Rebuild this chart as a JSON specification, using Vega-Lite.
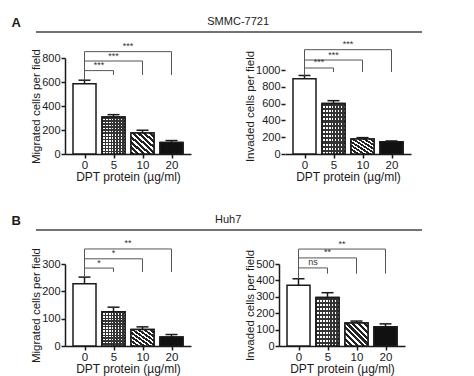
{
  "$schema": "https://vega.github.io/schema/vega-lite/v6.json",
  "background": "white",
  "padding": {"left": 11, "top": 12, "right": 5, "bottom": 3},
  "datasets": {
    "a1": [
      {"i": 0, "dose": "0", "mean": 585, "hi": 615},
      {"i": 1, "dose": "5", "mean": 308, "hi": 328},
      {"i": 2, "dose": "10", "mean": 175, "hi": 198},
      {"i": 3, "dose": "20", "mean": 95, "hi": 112}
    ],
    "a1s": [
      {"from": 0, "to": 1, "start": 615, "level": 695, "drop": 658, "label": "***"},
      {"from": 0, "to": 2, "start": 615, "level": 775, "drop": 658, "label": "***"},
      {"from": 0, "to": 3, "start": 615, "level": 853, "drop": 658, "label": "***"}
    ],
    "a2": [
      {"i": 0, "dose": "0", "mean": 895, "hi": 935},
      {"i": 1, "dose": "5", "mean": 600, "hi": 635},
      {"i": 2, "dose": "10", "mean": 180, "hi": 195},
      {"i": 3, "dose": "20", "mean": 145, "hi": 155}
    ],
    "a2s": [
      {"from": 0, "to": 1, "start": 935, "level": 1024, "drop": 976, "label": "***"},
      {"from": 0, "to": 2, "start": 935, "level": 1119, "drop": 976, "label": "***"},
      {"from": 0, "to": 3, "start": 935, "level": 1242, "drop": 976, "label": "***"}
    ],
    "b1": [
      {"i": 0, "dose": "0", "mean": 228, "hi": 252},
      {"i": 1, "dose": "5", "mean": 125, "hi": 142},
      {"i": 2, "dose": "10", "mean": 60, "hi": 70},
      {"i": 3, "dose": "20", "mean": 33, "hi": 42}
    ],
    "b1s": [
      {"from": 0, "to": 1, "start": 252, "level": 285, "drop": 271, "label": "*"},
      {"from": 0, "to": 2, "start": 252, "level": 319, "drop": 271, "label": "*"},
      {"from": 0, "to": 3, "start": 252, "level": 355, "drop": 271, "label": "**"}
    ],
    "b2": [
      {"i": 0, "dose": "0", "mean": 370, "hi": 410},
      {"i": 1, "dose": "5", "mean": 295, "hi": 325},
      {"i": 2, "dose": "10", "mean": 140, "hi": 152},
      {"i": 3, "dose": "20", "mean": 118, "hi": 135}
    ],
    "b2s": [
      {"from": 0, "to": 1, "start": 410, "level": 476, "drop": 441, "label": "ns"},
      {"from": 0, "to": 2, "start": 410, "level": 537, "drop": 441, "label": "**"},
      {"from": 0, "to": 3, "start": 410, "level": 591, "drop": 441, "label": "**"}
    ]
  },
  "spacing": 27,
  "vconcat": [
    {
      "spacing": 26,
      "bounds": "flush",
      "vconcat": [
        {
          "width": 357, "height": 20,
          "data": {"values": [{"panel": "A", "line": "SMMC-7721"}]},
          "layer": [
            {"mark": {"type": "text", "fontSize": 13, "fontWeight": "bold", "align": "right", "baseline": "middle", "dx": -15, "dy": 1, "color": "#1a1a1a"},
             "encoding": {"x": {"datum": -0.0812, "type": "quantitative", "scale": {"domain": [0, 1], "nice": false, "zero": false}, "axis": null}, "text": {"field": "panel"}}},
            {"mark": {"type": "text", "fontSize": 11, "baseline": "middle", "align": "center", "color": "#1a1a1a"},
             "encoding": {"x": {"datum": 0.485, "type": "quantitative", "scale": {"domain": [0, 1], "nice": false, "zero": false}, "axis": null}, "text": {"field": "line"}}},
            {"mark": {"type": "rule", "strokeWidth": 1.5, "color": "#444"},
             "encoding": {"x": {"datum": -0.0812, "type": "quantitative", "scale": {"domain": [0, 1], "nice": false, "zero": false}, "axis": null}, "x2": {"datum": 1}, "y": {"value": "height"}}}
          ]
        },
        {
          "spacing": 53,
          "hconcat": [
            {
              "width": 126, "height": 96,
              "encoding": {
                "x": {"type": "quantitative", "scale": {"domain": [-0.5, 3.5], "nice": false, "zero": false}, "axis": {"values": [0, 1, 2, 3], "labelExpr": "['0','5','10','20'][datum.value]", "title": "DPT protein (µg/ml)"}},
                "y": {"type": "quantitative", "scale": {"domain": [0, 800], "nice": false}, "axis": {"values": [0, 200, 400, 600, 800], "title": "Migrated cells per field"}}
              },
              "layer": [
                {"data": {"name": "a1"}, "mark": {"type": "bar", "orient": "vertical", "width": 23, "fill": "white", "stroke": "#1a1a1a", "strokeWidth": 1.5},
                 "encoding": {"x": {"field": "i"}, "y": {"field": "mean"}}},
                {"data": {"name": "a1"}, "transform": [{"filter": "datum.i==1"}], "mark": {"type": "bar", "orient": "vertical", "width": 23, "fill": {"gradient": "linear", "x1": 0, "y1": 0, "x2": 1, "y2": 0, "stops": [{"offset": 0, "color": "#333"}, {"offset": 0.0625, "color": "#333"}, {"offset": 0.0625, "color": "#fff"}, {"offset": 0.125, "color": "#fff"}, {"offset": 0.125, "color": "#333"}, {"offset": 0.1875, "color": "#333"}, {"offset": 0.1875, "color": "#fff"}, {"offset": 0.25, "color": "#fff"}, {"offset": 0.25, "color": "#333"}, {"offset": 0.3125, "color": "#333"}, {"offset": 0.3125, "color": "#fff"}, {"offset": 0.375, "color": "#fff"}, {"offset": 0.375, "color": "#333"}, {"offset": 0.4375, "color": "#333"}, {"offset": 0.4375, "color": "#fff"}, {"offset": 0.5, "color": "#fff"}, {"offset": 0.5, "color": "#333"}, {"offset": 0.5625, "color": "#333"}, {"offset": 0.5625, "color": "#fff"}, {"offset": 0.625, "color": "#fff"}, {"offset": 0.625, "color": "#333"}, {"offset": 0.6875, "color": "#333"}, {"offset": 0.6875, "color": "#fff"}, {"offset": 0.75, "color": "#fff"}, {"offset": 0.75, "color": "#333"}, {"offset": 0.8125, "color": "#333"}, {"offset": 0.8125, "color": "#fff"}, {"offset": 0.875, "color": "#fff"}, {"offset": 0.875, "color": "#333"}, {"offset": 0.9375, "color": "#333"}, {"offset": 0.9375, "color": "#fff"}, {"offset": 1, "color": "#fff"}]}},
                 "encoding": {"x": {"field": "i"}, "y": {"field": "mean"}}},
                {"data": {"name": "a1"}, "transform": [{"filter": "datum.i==1"}], "mark": {"type": "bar", "orient": "vertical", "width": 23, "stroke": "#1a1a1a", "strokeWidth": 1.5, "fill": {"gradient": "linear", "x1": 0, "y1": 0, "x2": 0, "y2": 1, "stops": [{"offset": 0, "color": "#333"}, {"offset": 0.0417, "color": "#333"}, {"offset": 0.0417, "color": "rgba(255,255,255,0)"}, {"offset": 0.0833, "color": "rgba(255,255,255,0)"}, {"offset": 0.0833, "color": "#333"}, {"offset": 0.125, "color": "#333"}, {"offset": 0.125, "color": "rgba(255,255,255,0)"}, {"offset": 0.1667, "color": "rgba(255,255,255,0)"}, {"offset": 0.1667, "color": "#333"}, {"offset": 0.2083, "color": "#333"}, {"offset": 0.2083, "color": "rgba(255,255,255,0)"}, {"offset": 0.25, "color": "rgba(255,255,255,0)"}, {"offset": 0.25, "color": "#333"}, {"offset": 0.2917, "color": "#333"}, {"offset": 0.2917, "color": "rgba(255,255,255,0)"}, {"offset": 0.3333, "color": "rgba(255,255,255,0)"}, {"offset": 0.3333, "color": "#333"}, {"offset": 0.375, "color": "#333"}, {"offset": 0.375, "color": "rgba(255,255,255,0)"}, {"offset": 0.4167, "color": "rgba(255,255,255,0)"}, {"offset": 0.4167, "color": "#333"}, {"offset": 0.4583, "color": "#333"}, {"offset": 0.4583, "color": "rgba(255,255,255,0)"}, {"offset": 0.5, "color": "rgba(255,255,255,0)"}, {"offset": 0.5, "color": "#333"}, {"offset": 0.5417, "color": "#333"}, {"offset": 0.5417, "color": "rgba(255,255,255,0)"}, {"offset": 0.5833, "color": "rgba(255,255,255,0)"}, {"offset": 0.5833, "color": "#333"}, {"offset": 0.625, "color": "#333"}, {"offset": 0.625, "color": "rgba(255,255,255,0)"}, {"offset": 0.6667, "color": "rgba(255,255,255,0)"}, {"offset": 0.6667, "color": "#333"}, {"offset": 0.7083, "color": "#333"}, {"offset": 0.7083, "color": "rgba(255,255,255,0)"}, {"offset": 0.75, "color": "rgba(255,255,255,0)"}, {"offset": 0.75, "color": "#333"}, {"offset": 0.7917, "color": "#333"}, {"offset": 0.7917, "color": "rgba(255,255,255,0)"}, {"offset": 0.8333, "color": "rgba(255,255,255,0)"}, {"offset": 0.8333, "color": "#333"}, {"offset": 0.875, "color": "#333"}, {"offset": 0.875, "color": "rgba(255,255,255,0)"}, {"offset": 0.9167, "color": "rgba(255,255,255,0)"}, {"offset": 0.9167, "color": "#333"}, {"offset": 0.9583, "color": "#333"}, {"offset": 0.9583, "color": "rgba(255,255,255,0)"}, {"offset": 1, "color": "rgba(255,255,255,0)"}]}},
                 "encoding": {"x": {"field": "i"}, "y": {"field": "mean"}}},
                {"data": {"name": "a1"}, "transform": [{"filter": "datum.i==2"}], "mark": {"type": "bar", "orient": "vertical", "width": 23, "stroke": "#1a1a1a", "strokeWidth": 1.5, "fill": {"gradient": "linear", "x1": 0, "y1": 1, "x2": 1, "y2": 0, "stops": [{"offset": 0, "color": "#222"}, {"offset": 0.07, "color": "#222"}, {"offset": 0.07, "color": "#fff"}, {"offset": 0.125, "color": "#fff"}, {"offset": 0.125, "color": "#222"}, {"offset": 0.195, "color": "#222"}, {"offset": 0.195, "color": "#fff"}, {"offset": 0.25, "color": "#fff"}, {"offset": 0.25, "color": "#222"}, {"offset": 0.32, "color": "#222"}, {"offset": 0.32, "color": "#fff"}, {"offset": 0.375, "color": "#fff"}, {"offset": 0.375, "color": "#222"}, {"offset": 0.445, "color": "#222"}, {"offset": 0.445, "color": "#fff"}, {"offset": 0.5, "color": "#fff"}, {"offset": 0.5, "color": "#222"}, {"offset": 0.57, "color": "#222"}, {"offset": 0.57, "color": "#fff"}, {"offset": 0.625, "color": "#fff"}, {"offset": 0.625, "color": "#222"}, {"offset": 0.695, "color": "#222"}, {"offset": 0.695, "color": "#fff"}, {"offset": 0.75, "color": "#fff"}, {"offset": 0.75, "color": "#222"}, {"offset": 0.82, "color": "#222"}, {"offset": 0.82, "color": "#fff"}, {"offset": 0.875, "color": "#fff"}, {"offset": 0.875, "color": "#222"}, {"offset": 0.945, "color": "#222"}, {"offset": 0.945, "color": "#fff"}, {"offset": 1, "color": "#fff"}]}},
                 "encoding": {"x": {"field": "i"}, "y": {"field": "mean"}}},
                {"data": {"name": "a1"}, "transform": [{"filter": "datum.i==3"}], "mark": {"type": "bar", "orient": "vertical", "width": 23, "fill": "#111", "stroke": "#1a1a1a", "strokeWidth": 1.5},
                 "encoding": {"x": {"field": "i"}, "y": {"field": "mean"}}},
                {"data": {"name": "a1"}, "mark": {"type": "rule", "strokeWidth": 1.5, "color": "#1a1a1a"},
                 "encoding": {"x": {"field": "i"}, "y": {"field": "mean"}, "y2": {"field": "hi"}}},
                {"data": {"name": "a1"}, "mark": {"type": "tick", "orient": "horizontal", "size": 12, "thickness": 1.5, "color": "#1a1a1a", "opacity": 1},
                 "encoding": {"x": {"field": "i"}, "y": {"field": "hi"}}},
                {"data": {"name": "a1s"}, "mark": {"type": "rule", "strokeWidth": 1, "color": "#555"},
                 "encoding": {"x": {"field": "from"}, "x2": {"field": "to"}, "y": {"field": "level"}}},
                {"data": {"name": "a1s"}, "mark": {"type": "rule", "strokeWidth": 1, "color": "#555"},
                 "encoding": {"x": {"field": "to"}, "y": {"field": "drop"}, "y2": {"field": "level"}}},
                {"data": {"name": "a1s"}, "mark": {"type": "rule", "strokeWidth": 1, "color": "#555"},
                 "encoding": {"x": {"field": "from"}, "y": {"field": "start"}, "y2": {"field": "level"}}},
                {"data": {"name": "a1s"}, "transform": [{"calculate": "(datum.from+datum.to)/2", "as": "mid"}], "mark": {"type": "text", "fontSize": 9, "baseline": "bottom", "dy": -0.5, "color": "#333"},
                 "encoding": {"x": {"field": "mid"}, "y": {"field": "level"}, "text": {"field": "label"}}}
              ]
            },
            {
              "width": 126, "height": 96,
              "encoding": {
                "x": {"type": "quantitative", "scale": {"domain": [-0.5, 3.5], "nice": false, "zero": false}, "axis": {"values": [0, 1, 2, 3], "labelExpr": "['0','5','10','20'][datum.value]", "title": "DPT protein (µg/ml)"}},
                "y": {"type": "quantitative", "scale": {"domain": [0, 1143], "nice": false}, "axis": {"values": [0, 200, 400, 600, 800, 1000], "format": "d", "domain": false, "title": "Invaded cells per field"}}
              },
              "layer": [
                {"data": {"name": "a2"}, "mark": {"type": "bar", "orient": "vertical", "width": 23, "fill": "white", "stroke": "#1a1a1a", "strokeWidth": 1.5},
                 "encoding": {"x": {"field": "i"}, "y": {"field": "mean"}}},
                {"data": {"name": "a2"}, "transform": [{"filter": "datum.i==1"}], "mark": {"type": "bar", "orient": "vertical", "width": 23, "fill": {"gradient": "linear", "x1": 0, "y1": 0, "x2": 1, "y2": 0, "stops": [{"offset": 0, "color": "#333"}, {"offset": 0.0625, "color": "#333"}, {"offset": 0.0625, "color": "#fff"}, {"offset": 0.125, "color": "#fff"}, {"offset": 0.125, "color": "#333"}, {"offset": 0.1875, "color": "#333"}, {"offset": 0.1875, "color": "#fff"}, {"offset": 0.25, "color": "#fff"}, {"offset": 0.25, "color": "#333"}, {"offset": 0.3125, "color": "#333"}, {"offset": 0.3125, "color": "#fff"}, {"offset": 0.375, "color": "#fff"}, {"offset": 0.375, "color": "#333"}, {"offset": 0.4375, "color": "#333"}, {"offset": 0.4375, "color": "#fff"}, {"offset": 0.5, "color": "#fff"}, {"offset": 0.5, "color": "#333"}, {"offset": 0.5625, "color": "#333"}, {"offset": 0.5625, "color": "#fff"}, {"offset": 0.625, "color": "#fff"}, {"offset": 0.625, "color": "#333"}, {"offset": 0.6875, "color": "#333"}, {"offset": 0.6875, "color": "#fff"}, {"offset": 0.75, "color": "#fff"}, {"offset": 0.75, "color": "#333"}, {"offset": 0.8125, "color": "#333"}, {"offset": 0.8125, "color": "#fff"}, {"offset": 0.875, "color": "#fff"}, {"offset": 0.875, "color": "#333"}, {"offset": 0.9375, "color": "#333"}, {"offset": 0.9375, "color": "#fff"}, {"offset": 1, "color": "#fff"}]}},
                 "encoding": {"x": {"field": "i"}, "y": {"field": "mean"}}},
                {"data": {"name": "a2"}, "transform": [{"filter": "datum.i==1"}], "mark": {"type": "bar", "orient": "vertical", "width": 23, "stroke": "#1a1a1a", "strokeWidth": 1.5, "fill": {"gradient": "linear", "x1": 0, "y1": 0, "x2": 0, "y2": 1, "stops": [{"offset": 0, "color": "#333"}, {"offset": 0.0417, "color": "#333"}, {"offset": 0.0417, "color": "rgba(255,255,255,0)"}, {"offset": 0.0833, "color": "rgba(255,255,255,0)"}, {"offset": 0.0833, "color": "#333"}, {"offset": 0.125, "color": "#333"}, {"offset": 0.125, "color": "rgba(255,255,255,0)"}, {"offset": 0.1667, "color": "rgba(255,255,255,0)"}, {"offset": 0.1667, "color": "#333"}, {"offset": 0.2083, "color": "#333"}, {"offset": 0.2083, "color": "rgba(255,255,255,0)"}, {"offset": 0.25, "color": "rgba(255,255,255,0)"}, {"offset": 0.25, "color": "#333"}, {"offset": 0.2917, "color": "#333"}, {"offset": 0.2917, "color": "rgba(255,255,255,0)"}, {"offset": 0.3333, "color": "rgba(255,255,255,0)"}, {"offset": 0.3333, "color": "#333"}, {"offset": 0.375, "color": "#333"}, {"offset": 0.375, "color": "rgba(255,255,255,0)"}, {"offset": 0.4167, "color": "rgba(255,255,255,0)"}, {"offset": 0.4167, "color": "#333"}, {"offset": 0.4583, "color": "#333"}, {"offset": 0.4583, "color": "rgba(255,255,255,0)"}, {"offset": 0.5, "color": "rgba(255,255,255,0)"}, {"offset": 0.5, "color": "#333"}, {"offset": 0.5417, "color": "#333"}, {"offset": 0.5417, "color": "rgba(255,255,255,0)"}, {"offset": 0.5833, "color": "rgba(255,255,255,0)"}, {"offset": 0.5833, "color": "#333"}, {"offset": 0.625, "color": "#333"}, {"offset": 0.625, "color": "rgba(255,255,255,0)"}, {"offset": 0.6667, "color": "rgba(255,255,255,0)"}, {"offset": 0.6667, "color": "#333"}, {"offset": 0.7083, "color": "#333"}, {"offset": 0.7083, "color": "rgba(255,255,255,0)"}, {"offset": 0.75, "color": "rgba(255,255,255,0)"}, {"offset": 0.75, "color": "#333"}, {"offset": 0.7917, "color": "#333"}, {"offset": 0.7917, "color": "rgba(255,255,255,0)"}, {"offset": 0.8333, "color": "rgba(255,255,255,0)"}, {"offset": 0.8333, "color": "#333"}, {"offset": 0.875, "color": "#333"}, {"offset": 0.875, "color": "rgba(255,255,255,0)"}, {"offset": 0.9167, "color": "rgba(255,255,255,0)"}, {"offset": 0.9167, "color": "#333"}, {"offset": 0.9583, "color": "#333"}, {"offset": 0.9583, "color": "rgba(255,255,255,0)"}, {"offset": 1, "color": "rgba(255,255,255,0)"}]}},
                 "encoding": {"x": {"field": "i"}, "y": {"field": "mean"}}},
                {"data": {"name": "a2"}, "transform": [{"filter": "datum.i==2"}], "mark": {"type": "bar", "orient": "vertical", "width": 23, "stroke": "#1a1a1a", "strokeWidth": 1.5, "fill": {"gradient": "linear", "x1": 0, "y1": 1, "x2": 1, "y2": 0, "stops": [{"offset": 0, "color": "#222"}, {"offset": 0.07, "color": "#222"}, {"offset": 0.07, "color": "#fff"}, {"offset": 0.125, "color": "#fff"}, {"offset": 0.125, "color": "#222"}, {"offset": 0.195, "color": "#222"}, {"offset": 0.195, "color": "#fff"}, {"offset": 0.25, "color": "#fff"}, {"offset": 0.25, "color": "#222"}, {"offset": 0.32, "color": "#222"}, {"offset": 0.32, "color": "#fff"}, {"offset": 0.375, "color": "#fff"}, {"offset": 0.375, "color": "#222"}, {"offset": 0.445, "color": "#222"}, {"offset": 0.445, "color": "#fff"}, {"offset": 0.5, "color": "#fff"}, {"offset": 0.5, "color": "#222"}, {"offset": 0.57, "color": "#222"}, {"offset": 0.57, "color": "#fff"}, {"offset": 0.625, "color": "#fff"}, {"offset": 0.625, "color": "#222"}, {"offset": 0.695, "color": "#222"}, {"offset": 0.695, "color": "#fff"}, {"offset": 0.75, "color": "#fff"}, {"offset": 0.75, "color": "#222"}, {"offset": 0.82, "color": "#222"}, {"offset": 0.82, "color": "#fff"}, {"offset": 0.875, "color": "#fff"}, {"offset": 0.875, "color": "#222"}, {"offset": 0.945, "color": "#222"}, {"offset": 0.945, "color": "#fff"}, {"offset": 1, "color": "#fff"}]}},
                 "encoding": {"x": {"field": "i"}, "y": {"field": "mean"}}},
                {"data": {"name": "a2"}, "transform": [{"filter": "datum.i==3"}], "mark": {"type": "bar", "orient": "vertical", "width": 23, "fill": "#111", "stroke": "#1a1a1a", "strokeWidth": 1.5},
                 "encoding": {"x": {"field": "i"}, "y": {"field": "mean"}}},
                {"data": {"name": "a2"}, "mark": {"type": "rule", "strokeWidth": 1.5, "color": "#1a1a1a"},
                 "encoding": {"x": {"field": "i"}, "y": {"field": "mean"}, "y2": {"field": "hi"}}},
                {"data": {"name": "a2"}, "mark": {"type": "tick", "orient": "horizontal", "size": 12, "thickness": 1.5, "color": "#1a1a1a", "opacity": 1},
                 "encoding": {"x": {"field": "i"}, "y": {"field": "hi"}}},
                {"mark": {"type": "rule", "strokeWidth": 1.5, "color": "#1a1a1a"},
                 "encoding": {"x": {"datum": -0.5}, "y": {"datum": 0}, "y2": {"datum": 1000}}},
                {"data": {"name": "a2s"}, "mark": {"type": "rule", "strokeWidth": 1, "color": "#555"},
                 "encoding": {"x": {"field": "from"}, "x2": {"field": "to"}, "y": {"field": "level"}}},
                {"data": {"name": "a2s"}, "mark": {"type": "rule", "strokeWidth": 1, "color": "#555"},
                 "encoding": {"x": {"field": "to"}, "y": {"field": "drop"}, "y2": {"field": "level"}}},
                {"data": {"name": "a2s"}, "mark": {"type": "rule", "strokeWidth": 1, "color": "#555"},
                 "encoding": {"x": {"field": "from"}, "y": {"field": "start"}, "y2": {"field": "level"}}},
                {"data": {"name": "a2s"}, "transform": [{"calculate": "(datum.from+datum.to)/2", "as": "mid"}], "mark": {"type": "text", "fontSize": 9, "baseline": "bottom", "dy": -0.5, "color": "#333"},
                 "encoding": {"x": {"field": "mid"}, "y": {"field": "level"}, "text": {"field": "label"}}}
              ]
            }
          ]
        }
      ]
    },
    {
      "spacing": 34,
      "bounds": "flush",
      "vconcat": [
        {
          "width": 357, "height": 20,
          "data": {"values": [{"panel": "B", "line": "Huh7"}]},
          "layer": [
            {"mark": {"type": "text", "fontSize": 13, "fontWeight": "bold", "align": "right", "baseline": "middle", "dx": -15, "dy": 1, "color": "#1a1a1a"},
             "encoding": {"x": {"datum": -0.0812, "type": "quantitative", "scale": {"domain": [0, 1], "nice": false, "zero": false}, "axis": null}, "text": {"field": "panel"}}},
            {"mark": {"type": "text", "fontSize": 11, "baseline": "middle", "align": "center", "color": "#1a1a1a"},
             "encoding": {"x": {"datum": 0.457, "type": "quantitative", "scale": {"domain": [0, 1], "nice": false, "zero": false}, "axis": null}, "text": {"field": "line"}}},
            {"mark": {"type": "rule", "strokeWidth": 1.5, "color": "#444"},
             "encoding": {"x": {"datum": -0.0812, "type": "quantitative", "scale": {"domain": [0, 1], "nice": false, "zero": false}, "axis": null}, "x2": {"datum": 1}, "y": {"value": "height"}}}
          ]
        },
        {
          "spacing": 53,
          "hconcat": [
            {
              "width": 126, "height": 82,
              "encoding": {
                "x": {"type": "quantitative", "scale": {"domain": [-0.5, 3.5], "nice": false, "zero": false}, "axis": {"values": [0, 1, 2, 3], "labelExpr": "['0','5','10','20'][datum.value]", "title": "DPT protein (µg/ml)"}},
                "y": {"type": "quantitative", "scale": {"domain": [0, 300], "nice": false}, "axis": {"values": [0, 100, 200, 300], "title": "Migrated cells per field"}}
              },
              "layer": [
                {"data": {"name": "b1"}, "mark": {"type": "bar", "orient": "vertical", "width": 23, "fill": "white", "stroke": "#1a1a1a", "strokeWidth": 1.5},
                 "encoding": {"x": {"field": "i"}, "y": {"field": "mean"}}},
                {"data": {"name": "b1"}, "transform": [{"filter": "datum.i==1"}], "mark": {"type": "bar", "orient": "vertical", "width": 23, "fill": {"gradient": "linear", "x1": 0, "y1": 0, "x2": 1, "y2": 0, "stops": [{"offset": 0, "color": "#333"}, {"offset": 0.0625, "color": "#333"}, {"offset": 0.0625, "color": "#fff"}, {"offset": 0.125, "color": "#fff"}, {"offset": 0.125, "color": "#333"}, {"offset": 0.1875, "color": "#333"}, {"offset": 0.1875, "color": "#fff"}, {"offset": 0.25, "color": "#fff"}, {"offset": 0.25, "color": "#333"}, {"offset": 0.3125, "color": "#333"}, {"offset": 0.3125, "color": "#fff"}, {"offset": 0.375, "color": "#fff"}, {"offset": 0.375, "color": "#333"}, {"offset": 0.4375, "color": "#333"}, {"offset": 0.4375, "color": "#fff"}, {"offset": 0.5, "color": "#fff"}, {"offset": 0.5, "color": "#333"}, {"offset": 0.5625, "color": "#333"}, {"offset": 0.5625, "color": "#fff"}, {"offset": 0.625, "color": "#fff"}, {"offset": 0.625, "color": "#333"}, {"offset": 0.6875, "color": "#333"}, {"offset": 0.6875, "color": "#fff"}, {"offset": 0.75, "color": "#fff"}, {"offset": 0.75, "color": "#333"}, {"offset": 0.8125, "color": "#333"}, {"offset": 0.8125, "color": "#fff"}, {"offset": 0.875, "color": "#fff"}, {"offset": 0.875, "color": "#333"}, {"offset": 0.9375, "color": "#333"}, {"offset": 0.9375, "color": "#fff"}, {"offset": 1, "color": "#fff"}]}},
                 "encoding": {"x": {"field": "i"}, "y": {"field": "mean"}}},
                {"data": {"name": "b1"}, "transform": [{"filter": "datum.i==1"}], "mark": {"type": "bar", "orient": "vertical", "width": 23, "stroke": "#1a1a1a", "strokeWidth": 1.5, "fill": {"gradient": "linear", "x1": 0, "y1": 0, "x2": 0, "y2": 1, "stops": [{"offset": 0, "color": "#333"}, {"offset": 0.0417, "color": "#333"}, {"offset": 0.0417, "color": "rgba(255,255,255,0)"}, {"offset": 0.0833, "color": "rgba(255,255,255,0)"}, {"offset": 0.0833, "color": "#333"}, {"offset": 0.125, "color": "#333"}, {"offset": 0.125, "color": "rgba(255,255,255,0)"}, {"offset": 0.1667, "color": "rgba(255,255,255,0)"}, {"offset": 0.1667, "color": "#333"}, {"offset": 0.2083, "color": "#333"}, {"offset": 0.2083, "color": "rgba(255,255,255,0)"}, {"offset": 0.25, "color": "rgba(255,255,255,0)"}, {"offset": 0.25, "color": "#333"}, {"offset": 0.2917, "color": "#333"}, {"offset": 0.2917, "color": "rgba(255,255,255,0)"}, {"offset": 0.3333, "color": "rgba(255,255,255,0)"}, {"offset": 0.3333, "color": "#333"}, {"offset": 0.375, "color": "#333"}, {"offset": 0.375, "color": "rgba(255,255,255,0)"}, {"offset": 0.4167, "color": "rgba(255,255,255,0)"}, {"offset": 0.4167, "color": "#333"}, {"offset": 0.4583, "color": "#333"}, {"offset": 0.4583, "color": "rgba(255,255,255,0)"}, {"offset": 0.5, "color": "rgba(255,255,255,0)"}, {"offset": 0.5, "color": "#333"}, {"offset": 0.5417, "color": "#333"}, {"offset": 0.5417, "color": "rgba(255,255,255,0)"}, {"offset": 0.5833, "color": "rgba(255,255,255,0)"}, {"offset": 0.5833, "color": "#333"}, {"offset": 0.625, "color": "#333"}, {"offset": 0.625, "color": "rgba(255,255,255,0)"}, {"offset": 0.6667, "color": "rgba(255,255,255,0)"}, {"offset": 0.6667, "color": "#333"}, {"offset": 0.7083, "color": "#333"}, {"offset": 0.7083, "color": "rgba(255,255,255,0)"}, {"offset": 0.75, "color": "rgba(255,255,255,0)"}, {"offset": 0.75, "color": "#333"}, {"offset": 0.7917, "color": "#333"}, {"offset": 0.7917, "color": "rgba(255,255,255,0)"}, {"offset": 0.8333, "color": "rgba(255,255,255,0)"}, {"offset": 0.8333, "color": "#333"}, {"offset": 0.875, "color": "#333"}, {"offset": 0.875, "color": "rgba(255,255,255,0)"}, {"offset": 0.9167, "color": "rgba(255,255,255,0)"}, {"offset": 0.9167, "color": "#333"}, {"offset": 0.9583, "color": "#333"}, {"offset": 0.9583, "color": "rgba(255,255,255,0)"}, {"offset": 1, "color": "rgba(255,255,255,0)"}]}},
                 "encoding": {"x": {"field": "i"}, "y": {"field": "mean"}}},
                {"data": {"name": "b1"}, "transform": [{"filter": "datum.i==2"}], "mark": {"type": "bar", "orient": "vertical", "width": 23, "stroke": "#1a1a1a", "strokeWidth": 1.5, "fill": {"gradient": "linear", "x1": 0, "y1": 1, "x2": 1, "y2": 0, "stops": [{"offset": 0, "color": "#222"}, {"offset": 0.07, "color": "#222"}, {"offset": 0.07, "color": "#fff"}, {"offset": 0.125, "color": "#fff"}, {"offset": 0.125, "color": "#222"}, {"offset": 0.195, "color": "#222"}, {"offset": 0.195, "color": "#fff"}, {"offset": 0.25, "color": "#fff"}, {"offset": 0.25, "color": "#222"}, {"offset": 0.32, "color": "#222"}, {"offset": 0.32, "color": "#fff"}, {"offset": 0.375, "color": "#fff"}, {"offset": 0.375, "color": "#222"}, {"offset": 0.445, "color": "#222"}, {"offset": 0.445, "color": "#fff"}, {"offset": 0.5, "color": "#fff"}, {"offset": 0.5, "color": "#222"}, {"offset": 0.57, "color": "#222"}, {"offset": 0.57, "color": "#fff"}, {"offset": 0.625, "color": "#fff"}, {"offset": 0.625, "color": "#222"}, {"offset": 0.695, "color": "#222"}, {"offset": 0.695, "color": "#fff"}, {"offset": 0.75, "color": "#fff"}, {"offset": 0.75, "color": "#222"}, {"offset": 0.82, "color": "#222"}, {"offset": 0.82, "color": "#fff"}, {"offset": 0.875, "color": "#fff"}, {"offset": 0.875, "color": "#222"}, {"offset": 0.945, "color": "#222"}, {"offset": 0.945, "color": "#fff"}, {"offset": 1, "color": "#fff"}]}},
                 "encoding": {"x": {"field": "i"}, "y": {"field": "mean"}}},
                {"data": {"name": "b1"}, "transform": [{"filter": "datum.i==3"}], "mark": {"type": "bar", "orient": "vertical", "width": 23, "fill": "#111", "stroke": "#1a1a1a", "strokeWidth": 1.5},
                 "encoding": {"x": {"field": "i"}, "y": {"field": "mean"}}},
                {"data": {"name": "b1"}, "mark": {"type": "rule", "strokeWidth": 1.5, "color": "#1a1a1a"},
                 "encoding": {"x": {"field": "i"}, "y": {"field": "mean"}, "y2": {"field": "hi"}}},
                {"data": {"name": "b1"}, "mark": {"type": "tick", "orient": "horizontal", "size": 12, "thickness": 1.5, "color": "#1a1a1a", "opacity": 1},
                 "encoding": {"x": {"field": "i"}, "y": {"field": "hi"}}},
                {"data": {"name": "b1s"}, "mark": {"type": "rule", "strokeWidth": 1, "color": "#555"},
                 "encoding": {"x": {"field": "from"}, "x2": {"field": "to"}, "y": {"field": "level"}}},
                {"data": {"name": "b1s"}, "mark": {"type": "rule", "strokeWidth": 1, "color": "#555"},
                 "encoding": {"x": {"field": "to"}, "y": {"field": "drop"}, "y2": {"field": "level"}}},
                {"data": {"name": "b1s"}, "mark": {"type": "rule", "strokeWidth": 1, "color": "#555"},
                 "encoding": {"x": {"field": "from"}, "y": {"field": "start"}, "y2": {"field": "level"}}},
                {"data": {"name": "b1s"}, "transform": [{"calculate": "(datum.from+datum.to)/2", "as": "mid"}], "mark": {"type": "text", "fontSize": 9, "baseline": "bottom", "dy": -0.5, "color": "#333"},
                 "encoding": {"x": {"field": "mid"}, "y": {"field": "level"}, "text": {"field": "label"}}}
              ]
            },
            {
              "width": 126, "height": 82,
              "encoding": {
                "x": {"type": "quantitative", "scale": {"domain": [-0.5, 3.5], "nice": false, "zero": false}, "axis": {"values": [0, 1, 2, 3], "labelExpr": "['0','5','10','20'][datum.value]", "title": "DPT protein (µg/ml)"}},
                "y": {"type": "quantitative", "scale": {"domain": [0, 500], "nice": false}, "axis": {"values": [0, 100, 200, 300, 400, 500], "title": "Invaded cells per field"}}
              },
              "layer": [
                {"data": {"name": "b2"}, "mark": {"type": "bar", "orient": "vertical", "width": 23, "fill": "white", "stroke": "#1a1a1a", "strokeWidth": 1.5},
                 "encoding": {"x": {"field": "i"}, "y": {"field": "mean"}}},
                {"data": {"name": "b2"}, "transform": [{"filter": "datum.i==1"}], "mark": {"type": "bar", "orient": "vertical", "width": 23, "fill": {"gradient": "linear", "x1": 0, "y1": 0, "x2": 1, "y2": 0, "stops": [{"offset": 0, "color": "#333"}, {"offset": 0.0625, "color": "#333"}, {"offset": 0.0625, "color": "#fff"}, {"offset": 0.125, "color": "#fff"}, {"offset": 0.125, "color": "#333"}, {"offset": 0.1875, "color": "#333"}, {"offset": 0.1875, "color": "#fff"}, {"offset": 0.25, "color": "#fff"}, {"offset": 0.25, "color": "#333"}, {"offset": 0.3125, "color": "#333"}, {"offset": 0.3125, "color": "#fff"}, {"offset": 0.375, "color": "#fff"}, {"offset": 0.375, "color": "#333"}, {"offset": 0.4375, "color": "#333"}, {"offset": 0.4375, "color": "#fff"}, {"offset": 0.5, "color": "#fff"}, {"offset": 0.5, "color": "#333"}, {"offset": 0.5625, "color": "#333"}, {"offset": 0.5625, "color": "#fff"}, {"offset": 0.625, "color": "#fff"}, {"offset": 0.625, "color": "#333"}, {"offset": 0.6875, "color": "#333"}, {"offset": 0.6875, "color": "#fff"}, {"offset": 0.75, "color": "#fff"}, {"offset": 0.75, "color": "#333"}, {"offset": 0.8125, "color": "#333"}, {"offset": 0.8125, "color": "#fff"}, {"offset": 0.875, "color": "#fff"}, {"offset": 0.875, "color": "#333"}, {"offset": 0.9375, "color": "#333"}, {"offset": 0.9375, "color": "#fff"}, {"offset": 1, "color": "#fff"}]}},
                 "encoding": {"x": {"field": "i"}, "y": {"field": "mean"}}},
                {"data": {"name": "b2"}, "transform": [{"filter": "datum.i==1"}], "mark": {"type": "bar", "orient": "vertical", "width": 23, "stroke": "#1a1a1a", "strokeWidth": 1.5, "fill": {"gradient": "linear", "x1": 0, "y1": 0, "x2": 0, "y2": 1, "stops": [{"offset": 0, "color": "#333"}, {"offset": 0.0417, "color": "#333"}, {"offset": 0.0417, "color": "rgba(255,255,255,0)"}, {"offset": 0.0833, "color": "rgba(255,255,255,0)"}, {"offset": 0.0833, "color": "#333"}, {"offset": 0.125, "color": "#333"}, {"offset": 0.125, "color": "rgba(255,255,255,0)"}, {"offset": 0.1667, "color": "rgba(255,255,255,0)"}, {"offset": 0.1667, "color": "#333"}, {"offset": 0.2083, "color": "#333"}, {"offset": 0.2083, "color": "rgba(255,255,255,0)"}, {"offset": 0.25, "color": "rgba(255,255,255,0)"}, {"offset": 0.25, "color": "#333"}, {"offset": 0.2917, "color": "#333"}, {"offset": 0.2917, "color": "rgba(255,255,255,0)"}, {"offset": 0.3333, "color": "rgba(255,255,255,0)"}, {"offset": 0.3333, "color": "#333"}, {"offset": 0.375, "color": "#333"}, {"offset": 0.375, "color": "rgba(255,255,255,0)"}, {"offset": 0.4167, "color": "rgba(255,255,255,0)"}, {"offset": 0.4167, "color": "#333"}, {"offset": 0.4583, "color": "#333"}, {"offset": 0.4583, "color": "rgba(255,255,255,0)"}, {"offset": 0.5, "color": "rgba(255,255,255,0)"}, {"offset": 0.5, "color": "#333"}, {"offset": 0.5417, "color": "#333"}, {"offset": 0.5417, "color": "rgba(255,255,255,0)"}, {"offset": 0.5833, "color": "rgba(255,255,255,0)"}, {"offset": 0.5833, "color": "#333"}, {"offset": 0.625, "color": "#333"}, {"offset": 0.625, "color": "rgba(255,255,255,0)"}, {"offset": 0.6667, "color": "rgba(255,255,255,0)"}, {"offset": 0.6667, "color": "#333"}, {"offset": 0.7083, "color": "#333"}, {"offset": 0.7083, "color": "rgba(255,255,255,0)"}, {"offset": 0.75, "color": "rgba(255,255,255,0)"}, {"offset": 0.75, "color": "#333"}, {"offset": 0.7917, "color": "#333"}, {"offset": 0.7917, "color": "rgba(255,255,255,0)"}, {"offset": 0.8333, "color": "rgba(255,255,255,0)"}, {"offset": 0.8333, "color": "#333"}, {"offset": 0.875, "color": "#333"}, {"offset": 0.875, "color": "rgba(255,255,255,0)"}, {"offset": 0.9167, "color": "rgba(255,255,255,0)"}, {"offset": 0.9167, "color": "#333"}, {"offset": 0.9583, "color": "#333"}, {"offset": 0.9583, "color": "rgba(255,255,255,0)"}, {"offset": 1, "color": "rgba(255,255,255,0)"}]}},
                 "encoding": {"x": {"field": "i"}, "y": {"field": "mean"}}},
                {"data": {"name": "b2"}, "transform": [{"filter": "datum.i==2"}], "mark": {"type": "bar", "orient": "vertical", "width": 23, "stroke": "#1a1a1a", "strokeWidth": 1.5, "fill": {"gradient": "linear", "x1": 0, "y1": 1, "x2": 1, "y2": 0, "stops": [{"offset": 0, "color": "#222"}, {"offset": 0.07, "color": "#222"}, {"offset": 0.07, "color": "#fff"}, {"offset": 0.125, "color": "#fff"}, {"offset": 0.125, "color": "#222"}, {"offset": 0.195, "color": "#222"}, {"offset": 0.195, "color": "#fff"}, {"offset": 0.25, "color": "#fff"}, {"offset": 0.25, "color": "#222"}, {"offset": 0.32, "color": "#222"}, {"offset": 0.32, "color": "#fff"}, {"offset": 0.375, "color": "#fff"}, {"offset": 0.375, "color": "#222"}, {"offset": 0.445, "color": "#222"}, {"offset": 0.445, "color": "#fff"}, {"offset": 0.5, "color": "#fff"}, {"offset": 0.5, "color": "#222"}, {"offset": 0.57, "color": "#222"}, {"offset": 0.57, "color": "#fff"}, {"offset": 0.625, "color": "#fff"}, {"offset": 0.625, "color": "#222"}, {"offset": 0.695, "color": "#222"}, {"offset": 0.695, "color": "#fff"}, {"offset": 0.75, "color": "#fff"}, {"offset": 0.75, "color": "#222"}, {"offset": 0.82, "color": "#222"}, {"offset": 0.82, "color": "#fff"}, {"offset": 0.875, "color": "#fff"}, {"offset": 0.875, "color": "#222"}, {"offset": 0.945, "color": "#222"}, {"offset": 0.945, "color": "#fff"}, {"offset": 1, "color": "#fff"}]}},
                 "encoding": {"x": {"field": "i"}, "y": {"field": "mean"}}},
                {"data": {"name": "b2"}, "transform": [{"filter": "datum.i==3"}], "mark": {"type": "bar", "orient": "vertical", "width": 23, "fill": "#111", "stroke": "#1a1a1a", "strokeWidth": 1.5},
                 "encoding": {"x": {"field": "i"}, "y": {"field": "mean"}}},
                {"data": {"name": "b2"}, "mark": {"type": "rule", "strokeWidth": 1.5, "color": "#1a1a1a"},
                 "encoding": {"x": {"field": "i"}, "y": {"field": "mean"}, "y2": {"field": "hi"}}},
                {"data": {"name": "b2"}, "mark": {"type": "tick", "orient": "horizontal", "size": 12, "thickness": 1.5, "color": "#1a1a1a", "opacity": 1},
                 "encoding": {"x": {"field": "i"}, "y": {"field": "hi"}}},
                {"data": {"name": "b2s"}, "mark": {"type": "rule", "strokeWidth": 1, "color": "#555"},
                 "encoding": {"x": {"field": "from"}, "x2": {"field": "to"}, "y": {"field": "level"}}},
                {"data": {"name": "b2s"}, "mark": {"type": "rule", "strokeWidth": 1, "color": "#555"},
                 "encoding": {"x": {"field": "to"}, "y": {"field": "drop"}, "y2": {"field": "level"}}},
                {"data": {"name": "b2s"}, "mark": {"type": "rule", "strokeWidth": 1, "color": "#555"},
                 "encoding": {"x": {"field": "from"}, "y": {"field": "start"}, "y2": {"field": "level"}}},
                {"data": {"name": "b2s"}, "transform": [{"calculate": "(datum.from+datum.to)/2", "as": "mid"}], "mark": {"type": "text", "fontSize": 9, "baseline": "bottom", "dy": -0.5, "color": "#333"},
                 "encoding": {"x": {"field": "mid"}, "y": {"field": "level"}, "text": {"field": "label"}}}
              ]
            }
          ]
        }
      ]
    }
  ],
  "config": {
    "font": "Liberation Sans",
    "view": {"stroke": null},
    "axis": {"grid": false, "domainColor": "#1a1a1a", "domainWidth": 1.5, "tickColor": "#1a1a1a", "tickWidth": 1.5, "tickSize": 4, "labelColor": "#1a1a1a", "titleColor": "#1a1a1a", "labelFontSize": 11, "titleFontSize": 11.5, "titleFontWeight": "normal", "labelPadding": 1, "labelOverlap": false, "labelFont": "Liberation Sans", "titleFont": "Liberation Sans"},
    "axisX": {"titleFontSize": 12, "titlePadding": 1, "labelFlush": false, "labelFontSize": 11.5},
    "axisY": {"titlePadding": 0}
  }
}
